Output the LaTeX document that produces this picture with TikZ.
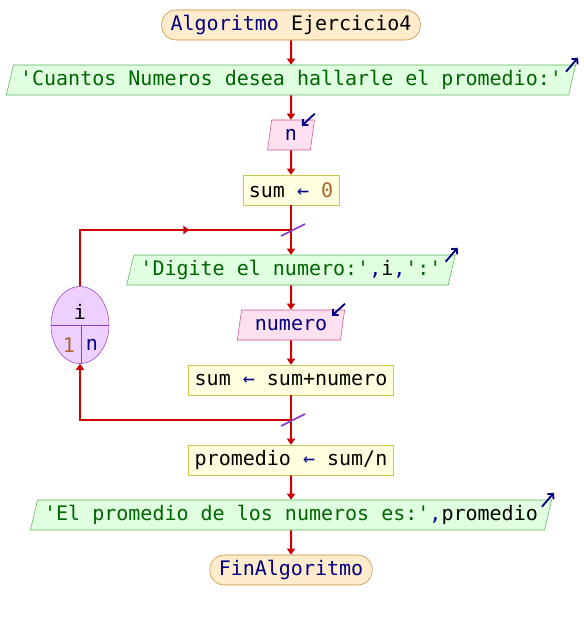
\documentclass[tikz,border=0pt]{standalone}
\usepackage{fontspec}
\setmonofont{DejaVu Sans Mono}
\usepackage{tikz}
\usetikzlibrary{shapes.geometric, arrows.meta, decorations.markings}

\definecolor{termfill}{RGB}{255,236,204}
\definecolor{termdraw}{RGB}{204,136,51}
\definecolor{outfill}{RGB}{224,255,224}
\definecolor{outdraw}{RGB}{90,180,90}
\definecolor{infill}{RGB}{255,224,240}
\definecolor{indraw}{RGB}{204,80,140}
\definecolor{asgfill}{RGB}{255,255,224}
\definecolor{asgdraw}{RGB}{200,200,80}
\definecolor{loopfill}{RGB}{238,208,255}
\definecolor{loopdraw}{RGB}{150,60,200}
\definecolor{flowred}{RGB}{204,0,0}
\definecolor{kwblue}{RGB}{0,0,128}
\definecolor{strgreen}{RGB}{0,100,0}
\definecolor{numbrown}{RGB}{170,100,50}
\definecolor{tickpurple}{RGB}{140,60,200}

\newcommand{\kw}[1]{\textcolor{kwblue}{#1}}
\newcommand{\strg}[1]{\textcolor{strgreen}{#1}}
\newcommand{\numb}[1]{\textcolor{numbrown}{#1}}

\begin{document}
\begin{tikzpicture}[>={Triangle[length=4.5pt,width=6pt]}, node distance=41.25pt,
    font=\ttfamily\fontsize{15pt}{18pt}\selectfont,
    term/.style={draw=termdraw, fill=termfill, rounded corners=11pt, minimum height=22.5pt, inner xsep=6.75pt, inner ysep=0pt},
    outp/.style={trapezium, trapezium stretches=true, trapezium left angle=70, trapezium right angle=110, draw=outdraw, fill=outfill, minimum height=22.5pt, inner xsep=5pt, inner ysep=0pt},
    inp/.style={trapezium, trapezium stretches=true, trapezium left angle=70, trapezium right angle=110, draw=indraw, fill=infill, minimum height=22.5pt, inner xsep=10pt, inner ysep=0pt},
    asg/.style={draw=asgdraw, fill=asgfill, minimum height=22.5pt, inner xsep=4.5pt, inner ysep=0pt},
    loopnode/.style={ellipse, draw=loopdraw, fill=loopfill, minimum width=43.5pt, minimum height=57.75pt, inner sep=0pt},
    loopline/.style={draw=loopdraw, line width=0.75pt},
    flow/.style={color=flowred, line width=1.5pt},
    midarrow/.style={postaction={decorate}, decoration={markings, mark=at position 0.62 with {\arrow{>}}}},
    tickmark/.style={draw=tickpurple, line width=1.2pt},
    ioarrow/.style={draw=kwblue, line width=1.4pt, -{Straight Barb[length=3pt]}}]
    \useasboundingbox (0,0) rectangle (438pt,-465pt);

    \node[term] (start) at (218.25pt,-18.75pt) {\kw{Algoritmo} Ejercicio4};
    \node[outp, below of=start] (askn) {\strg{'Cuantos Numeros desea hallarle el promedio:'}};
    \node[inp, below of=askn] (readn) {\kw{n}};
    \node[asg, below of=readn] (sumzero) {sum \kw{←} \numb{0}};
    \node[outp, below of=sumzero, node distance=60pt] (asknum) {\strg{'Digite el numero:'}\kw{,}i\kw{,}\strg{':'}};
    \node[inp, below of=asknum] (readnum) {\kw{numero}};
    \node[asg, below of=readnum] (sumadd) {sum \kw{←} sum+numero};
    \node[asg, below of=sumadd, node distance=60pt] (avg) {promedio \kw{←} sum/n};
    \node[outp, below of=avg] (showavg) {\strg{'El promedio de los numeros es:'}\kw{,}promedio};
    \node[term, below of=showavg] (stop) {\kw{FinAlgoritmo}};

    % loop counter
    \coordinate[below of=sumzero, node distance=30pt] (jtop);
    \coordinate[below of=sumadd, node distance=30pt] (jbot);
    \node[loopnode, left of=readnum, node distance=158.25pt] (loop) {};
    \draw[loopline] (loop.west) -- (loop.east);
    \draw[loopline] ([xshift=0.75pt]loop.center) -- ([xshift=0.75pt]loop.south);
    \node (ivar) at ([yshift=9.75pt]loop.center) {i};
    \node[text=numbrown] (ifrom) at ([xshift=-8.25pt,yshift=-15pt]loop.center) {1};
    \node[text=kwblue] (ito) at ([xshift=9pt,yshift=-15pt]loop.center) {n};

    \draw[flow, ->] (start) -- (askn);
    \draw[flow, ->] (askn) -- (readn);
    \draw[flow, ->] (readn) -- (sumzero);
    \draw[flow] (sumzero) -- (jtop);
    \draw[flow, ->] (jtop) -- (asknum);
    \draw[flow, ->] (asknum) -- (readnum);
    \draw[flow, ->] (readnum) -- (sumadd);
    \draw[flow] (sumadd) -- (jbot);
    \draw[flow, ->] (jbot) -- (avg);
    \draw[flow, ->] (avg) -- (showavg);
    \draw[flow, ->] (showavg) -- (stop);
    \draw[flow, midarrow] (loop) |- (jtop);
    \draw[flow, ->] (jbot) -| (loop);

    \draw[tickmark] ([shift={(-7.5pt,-4.5pt)}]jtop) -- ([shift={(10.5pt,4.5pt)}]jtop);
    \draw[tickmark] ([shift={(-7.5pt,-4.5pt)}]jbot) -- ([shift={(10.5pt,4.5pt)}]jbot);

    % input / output marks
    \draw[ioarrow] ([shift={(-7.5pt,-5.25pt)}]askn.top right corner) -- ([shift={(1.5pt,5.25pt)}]askn.top right corner);
    \draw[ioarrow] ([shift={(-7.5pt,-5.25pt)}]asknum.top right corner) -- ([shift={(1.5pt,5.25pt)}]asknum.top right corner);
    \draw[ioarrow] ([shift={(-7.5pt,-5.25pt)}]showavg.top right corner) -- ([shift={(1.5pt,5.25pt)}]showavg.top right corner);
    \draw[ioarrow] ([yshift=4.5pt]readn.top right corner) -- ([shift={(-9.75pt,-4.5pt)}]readn.top right corner);
    \draw[ioarrow] ([yshift=4.5pt]readnum.top right corner) -- ([shift={(-9.75pt,-4.5pt)}]readnum.top right corner);
\end{tikzpicture}
\end{document}
